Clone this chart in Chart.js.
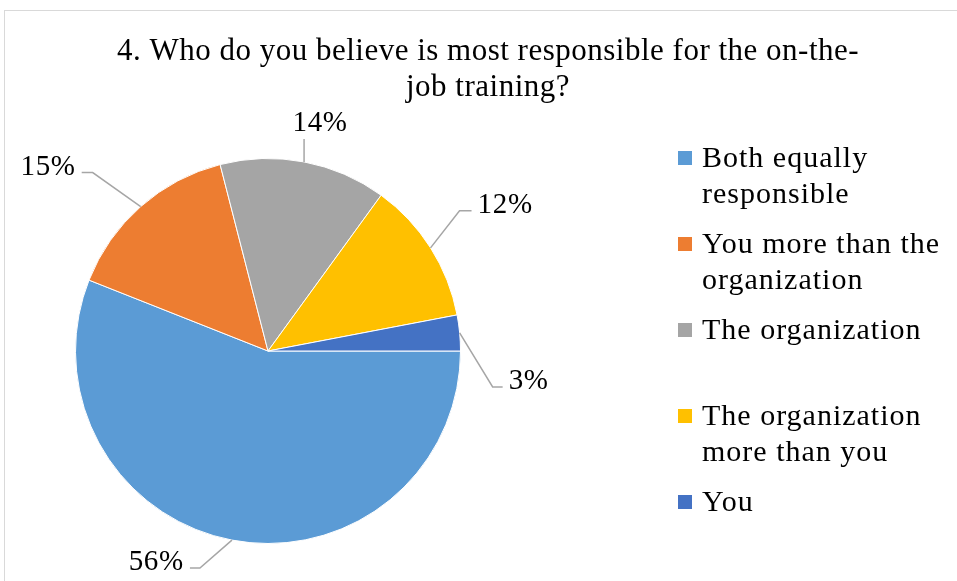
<!DOCTYPE html>
<html>
<head>
<meta charset="utf-8">
<script src="https://cdn.jsdelivr.net/npm/chart.js@4.4.1/dist/chart.umd.min.js"></script>
<style>
html, body { margin: 0; padding: 0; background: #fff; }
#wrap { width: 957px; height: 581px; position: relative; }
</style>
</head>
<body>
<div id="wrap"><canvas id="responsibility_chart"></canvas></div>
<script>
var categories = ["Both equally responsible", "You more than the organization", "The organization", "The organization more than you", "You"];
var percentages = [56, 15, 14, 12, 3];
var sliceColors = ["#5b9bd5", "#ed7d31", "#a5a5a5", "#ffc000", "#4472c4"];
var titleLines = ["4. Who do you believe is most responsible for the on-the-", "job training?"];

var serif = '"Liberation Serif", "Times New Roman", serif';

// leader line for each percent label: elbow is measured from the slice edge
// at the middle of the slice, tail is the short flat piece before the text
var labelPlacement = [
    {elbow: [-32, 28], tail: 10, side: -1},
    {elbow: [-48, -34], tail: 11, side: -1},
    {elbow: [0, -23], tail: 0, side: 0},
    {elbow: [29, -37], tail: 12, side: 1},
    {elbow: [33, 54], tail: 10, side: 1}
];

var frame = {
    id: 'frame',
    beforeDraw: function(chart) {
        var ctx = chart.ctx;
        ctx.save();
        ctx.fillStyle = '#fff';
        ctx.fillRect(0, 0, chart.width, chart.height);
        ctx.strokeStyle = '#d9d9d9';
        ctx.lineWidth = 1;
        ctx.strokeRect(4.5, 10.5, chart.width + 20, chart.height + 20);
        ctx.restore();
    }
};

var titlePlugin = {
    id: 'titleLines',
    afterDraw: function(chart) {
        var ctx = chart.ctx;
        ctx.save();
        ctx.fillStyle = '#000';
        ctx.font = '31px ' + serif;
        ctx.letterSpacing = '0.5px';
        ctx.textAlign = 'center';
        ctx.textBaseline = 'alphabetic';
        for (let i = 0; i < titleLines.length; i++) {
            ctx.fillText(titleLines[i], 488, 60 + i * 36);
        }
        ctx.restore();
    }
};

var percentLabels = {
    id: 'percentLabels',
    afterDatasetsDraw: function(chart) {
        var ctx = chart.ctx;
        var arcs = chart.getDatasetMeta(0).data;
        ctx.save();
        ctx.font = '29px ' + serif;
        ctx.letterSpacing = '0.7px';
        ctx.fillStyle = '#000';
        ctx.strokeStyle = '#a6a6a6';
        ctx.lineWidth = 1.5;
        ctx.textBaseline = 'alphabetic';
        for (let i = 0; i < arcs.length; i++) {
            let arc = arcs[i];
            let mid = (arc.startAngle + arc.endAngle) / 2;
            let ax = arc.x + Math.cos(mid) * arc.outerRadius;
            let ay = arc.y + Math.sin(mid) * arc.outerRadius;
            let text = percentages[i] + '%';
            let p = labelPlacement[i];
            let ex = ax + p.elbow[0];
            let ey = ay + p.elbow[1];
            let tx = ex + p.side * p.tail;
            ctx.beginPath();
            ctx.moveTo(ax, ay);
            ctx.lineTo(ex, ey);
            ctx.lineTo(tx, ey);
            ctx.stroke();
            if (p.side === 0) {
                // short vertical leader, text sits centred above it
                ctx.textAlign = 'center';
                ctx.fillText(text, ex + 16, ey - 8);
                continue;
            }
            ctx.textAlign = p.side < 0 ? 'right' : 'left';
            ctx.fillText(text, tx + p.side * 6, ey + 2);
        }
        ctx.restore();
    }
};

// legend on the right, wrapped the same way the labels wrap in the column
var sideLegend = {
    id: 'sideLegend',
    afterDraw: function(chart) {
        var ctx = chart.ctx;
        ctx.save();
        ctx.font = '30px ' + serif;
        ctx.letterSpacing = '1px';
        ctx.textBaseline = 'alphabetic';
        ctx.textAlign = 'left';
        var maxWidth = 255;
        for (let i = 0; i < categories.length; i++) {
            let base = 167 + i * 86;
            ctx.fillStyle = sliceColors[i];
            ctx.fillRect(678, base - 16, 14, 14);
            let words = categories[i].split(' ');
            let lines = [];
            let line = '';
            for (let w of words) {
                let test = line ? line + ' ' + w : w;
                if (line && ctx.measureText(test).width > maxWidth) {
                    lines.push(line);
                    line = w;
                } else {
                    line = test;
                }
            }
            lines.push(line);
            ctx.fillStyle = '#000';
            for (let j = 0; j < lines.length; j++) {
                ctx.fillText(lines[j], 702, base + j * 36);
            }
        }
        ctx.restore();
    }
};

var chart = new Chart(document.getElementById('responsibility_chart'), {
    type: 'pie',
    data: {
        labels: categories,
        datasets: [{
            data: percentages,
            backgroundColor: sliceColors,
            borderColor: '#fff',
            borderWidth: 1
        }]
    },
    options: {
        responsive: true,
        maintainAspectRatio: false,
        animation: false,
        rotation: 90,
        layout: {
            padding: {left: 75, right: 496, top: 158, bottom: 37}
        },
        plugins: {
            legend: {display: false},
            title: {display: false},
            tooltip: {enabled: false}
        }
    },
    plugins: [frame, titlePlugin, percentLabels, sideLegend]
});
</script>
</body>
</html>
